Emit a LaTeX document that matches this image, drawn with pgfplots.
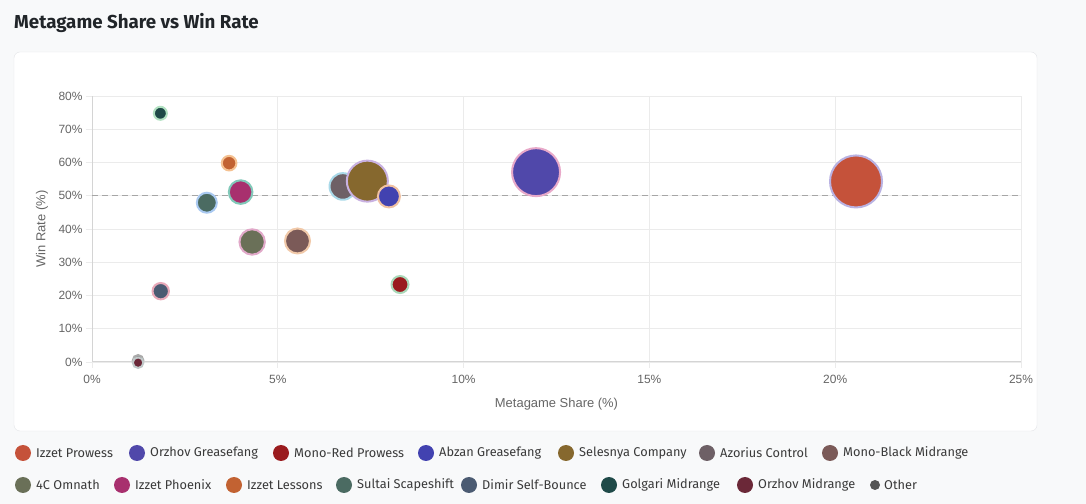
\documentclass[border=0pt]{standalone}
\usepackage{pgfplots}
\pgfplotsset{compat=1.18}
\usepackage{fontspec}
\setmainfont{Liberation Sans}
\newfontfamily\ui{Fira Sans}
\definecolor{bg}{HTML}{F8F9FA}
\definecolor{cardborder}{HTML}{E3E5E8}
\definecolor{titlecol}{HTML}{212529}
\definecolor{tickcol}{HTML}{666666}
\definecolor{gridcol}{HTML}{EBEBEB}
\definecolor{axcol}{HTML}{D4D4D4}
\definecolor{legcol}{HTML}{3A3A3A}
% bubble fills
\definecolor{cIP}{HTML}{C5523A}
\definecolor{cOG}{HTML}{5048AA}
\definecolor{cMR}{HTML}{9A1B1E}
\definecolor{cAG}{HTML}{4242B0}
\definecolor{cSC}{HTML}{86682E}
\definecolor{cAC}{HTML}{6E6066}
\definecolor{cMB}{HTML}{7B5A58}
\definecolor{cOM}{HTML}{6A7058}
\definecolor{cPH}{HTML}{A8306E}
\definecolor{cIL}{HTML}{C26232}
\definecolor{cSS}{HTML}{4B6B62}
\definecolor{cDS}{HTML}{4B5B72}
\definecolor{cGM}{HTML}{1F4A48}
\definecolor{cOD}{HTML}{6B2838}
\definecolor{cOT}{HTML}{555555}
% rings
\definecolor{rIP}{HTML}{B9B2E2}
\definecolor{rOG}{HTML}{E8A9C9}
\definecolor{rMR}{HTML}{A9D9B9}
\definecolor{rAG}{HTML}{F1C1A1}
\definecolor{rSC}{HTML}{C9B1E1}
\definecolor{rAC}{HTML}{A9D9E9}
\definecolor{rMB}{HTML}{F1C9A9}
\definecolor{rOM}{HTML}{E1A9C9}
\definecolor{rPH}{HTML}{81C9B9}
\definecolor{rIL}{HTML}{F5C191}
\definecolor{rSS}{HTML}{A9C9F1}
\definecolor{rDS}{HTML}{E9A9B9}
\definecolor{rGM}{HTML}{B1E1C1}
\definecolor{rOD}{HTML}{C1C9C9}
\definecolor{rOT}{HTML}{AAAAAA}
\newcommand{\bub}[5]{\addplot[only marks, mark=*, mark size=#3bp, mark options={fill=#4, draw=#5, line width=2bp}] coordinates {(#1,#2)};}
\newcommand{\leg}[4]{\fill[#4] (#1bp,#2bp) circle (8bp); \node[anchor=west, inner sep=0, font=\ui\fontsize{12.8}{14}\selectfont, text=legcol] at ([xshift=13bp]#1bp,#2bp) {#3};}
\begin{document}
\begin{tikzpicture}
\fill[bg] (0bp,0bp) rectangle (1086bp,504bp);
\filldraw[fill=white, draw=cardborder, rounded corners=6bp] (14bp,73bp) rectangle (1037bp,452bp);
\node[anchor=base west, inner sep=0, font=\ui\bfseries\fontsize{18.8}{20}\selectfont, text=titlecol] at (14bp,475bp) {Metagame Share vs Win Rate};
\begin{axis}[
  at={(92bp,142bp)}, anchor=south west, scale only axis,
  width=929bp, height=266bp,
  xmin=0, xmax=25, ymin=0, ymax=80,
  xtick={0,5,10,15,20,25}, ytick={0,10,20,30,40,50,60,70,80},
  xticklabel={\pgfmathprintnumber{\tick}\%},
  yticklabel={\pgfmathprintnumber{\tick}\%},
  /pgf/number format/assume math mode=true,
  ticklabel style={font=\fontsize{12}{14}\selectfont, text=tickcol},
  xticklabel style={yshift=-4bp},
  tick align=outside, major tick length=6bp,
  tick style={draw=gridcol, line width=0.8bp},
  grid=major, grid style={draw=gridcol, line width=0.8bp},
  separate axis lines,
  axis x line*=bottom, axis y line*=left,
  x axis line style={draw=axcol, line width=1bp, -},
  y axis line style={draw=axcol, line width=1bp, -},
  clip=false,
  xlabel={Metagame Share (\%)}, ylabel={Win Rate (\%)},
  label style={font=\fontsize{13}{15}\selectfont, text=tickcol},
  xlabel style={at={(axis description cs:0.5,-0.158)}, anchor=center},
  ylabel style={at={(axis description cs:-0.0538,0.5)}, anchor=center},
]
\addplot[color=black!35, line width=1bp, dash pattern=on 6bp off 4bp] coordinates {(0,50) (25,50)};
\bub{20.56}{54.3}{26}{cIP}{rIP}
\bub{11.95}{57.1}{24}{cOG}{rOG}
\bub{8.29}{23.3}{8.5}{cMR}{rMR}
\bub{6.75}{52.8}{13.3}{cAC}{rAC}
\bub{7.41}{54.4}{20.5}{cSC}{rSC}
\bub{7.99}{49.8}{11}{cAG}{rAG}
\bub{5.53}{36.4}{12.5}{cMB}{rMB}
\bub{4.31}{36.1}{12.7}{cOM}{rOM}
\bub{4.00}{51.1}{11.8}{cPH}{rPH}
\bub{3.69}{59.8}{7.3}{cIL}{rIL}
\bub{3.09}{47.9}{10}{cSS}{rSS}
\bub{1.85}{21.3}{8.2}{cDS}{rDS}
\bub{1.84}{74.8}{6.5}{cGM}{rGM}
\bub{1.24}{0.5}{5.3}{cOT}{rOT}
\bub{1.24}{-0.2}{5.3}{cOD}{rOD}
\end{axis}
% legend row 1
\leg{23}{51}{Izzet Prowess}{cIP}
\leg{137}{51}{Orzhov Greasefang}{cOG}
\leg{281}{51}{Mono-Red Prowess}{cMR}
\leg{426}{51}{Abzan Greasefang}{cAG}
\leg{566}{51}{Selesnya Company}{cSC}
\leg{707}{51}{Azorius Control}{cAC}
\leg{830}{51}{Mono-Black Midrange}{cMB}
% legend row 2
\leg{23}{19}{4C Omnath}{cOM}
\leg{122}{19}{Izzet Phoenix}{cPH}
\leg{234}{19}{Izzet Lessons}{cIL}
\leg{344}{19}{Sultai Scapeshift}{cSS}
\leg{469}{19}{Dimir Self-Bounce}{cDS}
\leg{609}{19}{Golgari Midrange}{cGM}
\leg{745}{19}{Orzhov Midrange}{cOD}
\fill[cOT] (875bp,19bp) circle (5bp);
\node[anchor=west, inner sep=0, font=\ui\fontsize{12.8}{14}\selectfont, text=legcol] at (884bp,19bp) {Other};
\end{tikzpicture}
\end{document}
